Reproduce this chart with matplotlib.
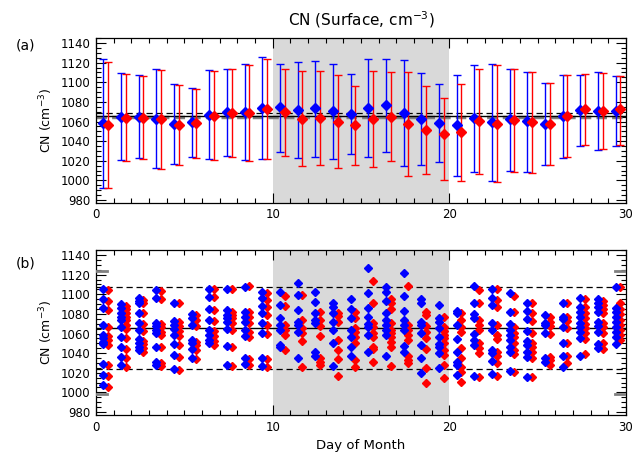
import numpy as np
import matplotlib
matplotlib.use('Agg')
import matplotlib.pyplot as plt
from matplotlib.ticker import MultipleLocator

plt.rcParams['font.family'] = ['DejaVu Sans']

# Day index (0..29)
days = np.arange(30)

# Panel (a): daily mean with min/max bars
blue_mean = [1058, 1065, 1065, 1063, 1057.5, 1059, 1067, 1069.6, 1070, 1073.7,
             1074.4, 1072, 1073.7, 1070.3, 1067.3, 1074, 1076.4, 1068.6, 1063, 1058.6,
             1056, 1063.4, 1059.3, 1062.3, 1060.6, 1057.6, 1065.7, 1071.4, 1070.7, 1070.7]
blue_hi = [1123.5, 1109, 1107, 1113.8, 1097.8, 1094.4, 1112.3, 1113.8, 1118.6, 1125.4,
           1119, 1121, 1122, 1118.6, 1108, 1123.4, 1123.4, 1122.4, 1109, 1097.8,
           1107, 1117.3, 1118.6, 1113.8, 1110.8, 1098.8, 1107, 1107, 1110, 1106]
blue_lo = [992.5, 1021, 1023, 1013, 1017, 1023.6, 1021.6, 1024.6, 1020.6, 1021.6,
           1029, 1022.6, 1024.3, 1021.3, 1026.6, 1023.6, 1029.4, 1014.5, 1015.2, 1018.5,
           1004.7, 1008.4, 999, 1010, 1008.4, 1015.8, 1023.3, 1035.5, 1031, 1034.8]
red_mean = [1056.5, 1064, 1064, 1062.5, 1056.5, 1058, 1066, 1068.6, 1069, 1073,
            1069.3, 1063, 1063.6, 1060, 1056.5, 1062.6, 1065, 1057, 1051.5, 1047,
            1049, 1060.3, 1057.6, 1061.3, 1059.6, 1057, 1065.7, 1072.3, 1070.7, 1072.7]
red_hi = [1121, 1108, 1106.5, 1112.5, 1097, 1093.4, 1112, 1113.2, 1118, 1123.4,
          1113.8, 1111, 1111, 1107, 1095.7, 1111, 1110, 1110, 1096.4, 1084.2,
          1097.8, 1113.5, 1117.6, 1113.2, 1110.8, 1098.8, 1107, 1108, 1109, 1106]
red_lo = [992, 1019.5, 1021.5, 1011.6, 1016, 1023, 1021, 1023.6, 1020, 1021.6,
          1025, 1014.5, 1015.5, 1012.6, 1016, 1013.5, 1019.6, 1004, 1006, 1000,
          999.3, 1006, 998, 1008.7, 1007.7, 1015.2, 1024.3, 1036.2, 1032, 1036.5]

# reference lines, panel (a)
a_solid = 1066
a_dashed = 1068.3
a_gray = 1064.3

# Panel (b): individual values per day
blue_pts = [
    [1105.4, 1095.2, 1085.7, 1068.7, 1058.5, 1055.1, 1051.7, 1049, 1028.9, 1018.1, 1007.2],
    [1089.7, 1085.7, 1080.6, 1077.2, 1073.8, 1067, 1056.8, 1046.6, 1035.7, 1027.6],
    [1095.8, 1093.1, 1090.7, 1081.2, 1070.4, 1063.6, 1054.1, 1050.7, 1046.6, 1043.2],
    [1104.3, 1095.8, 1070.4, 1067.6, 1063.6, 1060.2, 1046.6, 1031.3, 1027.9],
    [1091.4, 1073.1, 1068.7, 1064.3, 1058.5, 1049.3, 1038.1, 1024.2],
    [1079.5, 1075.5, 1068.7, 1053.4, 1050, 1043.9, 1034.7],
    [1105.4, 1097.5, 1084.6, 1073.8, 1063.6, 1058.5, 1053.4, 1050],
    [1105.4, 1084, 1078.9, 1075.5, 1072.1, 1064.3, 1047.3, 1027.9],
    [1107.7, 1082.3, 1077.2, 1072.1, 1063.6, 1057.5, 1034.7, 1028.9],
    [1102.6, 1095.8, 1088, 1080.6, 1070.4, 1060.2, 1034.7, 1027.2],
    [1102.6, 1089, 1075.5, 1068.7, 1063.6, 1048.3, 1045.9],
    [1111.1, 1099.2, 1084, 1072.1, 1068.7, 1061.9, 1034.7],
    [1102, 1092.4, 1080.6, 1073.8, 1070.4, 1041.5, 1037.1],
    [1090.7, 1087.4, 1080.6, 1072.1, 1063.6, 1050, 1026.9],
    [1094.8, 1084.6, 1076.2, 1063.6, 1056.1, 1046.6, 1037.1],
    [1126.4, 1100.9, 1085.7, 1077.2, 1069.7, 1066.3, 1058.5, 1041.5],
    [1107, 1102.6, 1093.5, 1080.6, 1073.8, 1068.7, 1063.6, 1058.5, 1037.1],
    [1121.3, 1098.2, 1082.9, 1073.8, 1068.7, 1063.6, 1047.3, 1041.5],
    [1094.8, 1091.4, 1072.1, 1068.7, 1060.2, 1048.3, 1034.7, 1019.4],
    [1089, 1075.5, 1072.1, 1065.3, 1056.1, 1049.3, 1046.6, 1039.8, 1024.5],
    [1083.3, 1080.6, 1068.7, 1054.1, 1041.5, 1031.3, 1027.9, 1017.7],
    [1108.4, 1091.4, 1079.9, 1075.5, 1059.5, 1053.4, 1048.3, 1016.7],
    [1105, 1095.8, 1089, 1070.4, 1063.6, 1043.2, 1039.8, 1032, 1018.7],
    [1101.6, 1082.3, 1069.7, 1063.6, 1058.5, 1053.4, 1045.9, 1041.5, 1022.1],
    [1091.4, 1083.3, 1074.5, 1062.9, 1052.7, 1048.3, 1041.5, 1036.4, 1016],
    [1078.9, 1070.4, 1068.7, 1060.2, 1034.7, 1031.3],
    [1090.7, 1077.2, 1074.5, 1067, 1050.7, 1037.1, 1026.2],
    [1095.8, 1087.4, 1082.3, 1077.2, 1071, 1067, 1061.9, 1055.1, 1037.1],
    [1094.8, 1091.4, 1087.4, 1082.3, 1072.1, 1067.6, 1061.9, 1049.3, 1044.9],
    [1107, 1085.7, 1082.3, 1077.2, 1072.1, 1067, 1061.9, 1056.8, 1049.3],
]
red_pts = [
    [1104.3, 1093.5, 1084, 1067, 1057.5, 1053.4, 1048.3, 1027.9, 1016.7, 1005.8],
    [1088, 1084.6, 1080.6, 1077.2, 1073.8, 1068.7, 1064.3, 1055.1, 1044.5, 1034.7, 1026.2],
    [1094.1, 1090.7, 1080.6, 1069.7, 1062.9, 1052.7, 1049.3, 1044.9, 1041.5],
    [1103.7, 1094.8, 1069.7, 1066.3, 1061.9, 1058.5, 1045.9, 1030.3, 1026.9],
    [1090.7, 1072.1, 1067.6, 1062.9, 1057.5, 1048.3, 1036.4, 1022.8],
    [1078.9, 1073.8, 1067.6, 1051.7, 1048.3, 1043.2, 1033.7],
    [1105.4, 1096.9, 1084, 1073.1, 1062.9, 1057.5, 1052.7, 1048.3],
    [1105, 1082.3, 1078.9, 1075.5, 1071, 1063.6, 1046.6, 1027.2],
    [1108.4, 1082.3, 1077.2, 1071, 1061.9, 1056.1, 1033.7, 1027.9],
    [1101.6, 1094.1, 1086.7, 1078.9, 1068.7, 1059.5, 1033.7, 1026.2],
    [1098.2, 1088, 1068.7, 1063.6, 1058.5, 1043.2],
    [1099.2, 1073.8, 1065.3, 1060.2, 1052.7, 1026.2],
    [1082.3, 1073.8, 1067.6, 1057.5, 1034.7, 1031.3, 1027.9],
    [1080.6, 1078, 1072.1, 1053.4, 1043.2, 1033.7, 1017],
    [1082.3, 1075.5, 1065.3, 1061.9, 1056.1, 1050, 1033, 1026.2],
    [1113.8, 1090.7, 1071, 1066.3, 1060.2, 1056.1, 1046.6, 1043.9, 1031.3],
    [1094.8, 1090.7, 1084.6, 1070.4, 1063.6, 1060.2, 1056.1, 1051.7, 1045.9, 1026.9],
    [1108.4, 1068.7, 1063.6, 1058.5, 1053.4, 1037.1, 1033, 1029.6],
    [1082.3, 1078.9, 1067.6, 1061.9, 1055.1, 1043.9, 1024.5, 1009.2],
    [1076.5, 1066.3, 1062.9, 1058.5, 1055.1, 1050, 1043.2, 1038.1, 1027.9, 1014.3],
    [1081.2, 1073.8, 1066.3, 1061.9, 1044.9, 1034.7, 1026.2, 1020.4, 1010.9],
    [1104.3, 1090.7, 1073.8, 1068.7, 1063.6, 1050, 1044.9, 1040.5, 1016],
    [1105, 1094.1, 1087.4, 1068.7, 1058.5, 1054.1, 1041.5, 1037.1, 1029.6, 1016.7],
    [1098.2, 1081.6, 1067, 1060.9, 1056.1, 1050, 1043.2, 1039.1, 1021.1],
    [1091.4, 1081.2, 1073.1, 1060.2, 1050.7, 1046.6, 1041.5, 1034.7, 1016],
    [1077.2, 1072.1, 1067.6, 1059.5, 1036.4, 1033, 1027.9],
    [1090.7, 1077.2, 1073.1, 1065.3, 1050, 1037.1, 1029.6],
    [1094.8, 1087.4, 1080.6, 1075.5, 1069.7, 1065.3, 1060.2, 1054.1, 1039.1],
    [1093.5, 1089, 1084.6, 1080.6, 1071, 1066.3, 1060.9, 1050, 1043.9],
    [1107, 1090.7, 1084.6, 1079.9, 1073.8, 1068.7, 1063.6, 1058.5, 1053.4],
]

# reference lines, panel (b)
b_mean = 1065.5
b_band = [1024, 1107]
b_gray = [998, 1124]

shade_span = (10, 20)
blue_off = 0.42
red_off = 0.68
ylim = (977, 1145)


def style_axis(ax):
    ax.set_xlim(0, 30)
    ax.set_ylim(*ylim)
    ax.xaxis.set_major_locator(MultipleLocator(10))
    ax.xaxis.set_minor_locator(MultipleLocator(1))
    ax.yaxis.set_major_locator(MultipleLocator(20))
    ax.yaxis.set_minor_locator(MultipleLocator(5))
    ax.tick_params(which='both', direction='in', top=True, right=True,
                   labelsize=8.5, width=0.8)
    ax.tick_params(which='major', length=7, pad=4)
    ax.tick_params(which='minor', length=3.5)
    ax.axvspan(*shade_span, color='#d9d9d9', lw=0, zorder=0)
    ax.set_ylabel('CN (cm$^{-3}$)', fontsize=9)
    for s in ax.spines.values():
        s.set_linewidth(0.9)


fig = plt.figure(figsize=(6.36, 4.54), dpi=100)
ax1 = fig.add_axes([0.151, 0.553, 0.833, 0.363])
ax2 = fig.add_axes([0.151, 0.086, 0.833, 0.363])

# --- panel (a)
style_axis(ax1)
bm = np.array(blue_mean)
rm = np.array(red_mean)
ax1.errorbar(days + blue_off, bm, yerr=[bm - np.array(blue_lo), np.array(blue_hi) - bm],
             fmt='D', color='blue', ms=5, elinewidth=1.0, capsize=3, capthick=1.0, zorder=3)
ax1.errorbar(days + red_off, rm, yerr=[rm - np.array(red_lo), np.array(red_hi) - rm],
             fmt='D', color='red', ms=5, elinewidth=1.0, capsize=3, capthick=1.0, zorder=3)
ax1.axhline(a_gray, color='gray', lw=2.5, ls=(0, (3, 1.5)), zorder=2)
ax1.axhline(a_solid, color='black', lw=1.0, zorder=2)
ax1.axhline(a_dashed, color='black', lw=0.9, ls=(0, (5, 3)), zorder=2)
ax1.set_title('CN (Surface, cm$^{-3}$)', fontsize=11, pad=9)
fig.text(0.025, 0.89, '(a)', fontsize=10)

# --- panel (b)
style_axis(ax2)
for d in days:
    ax2.plot(np.full(len(red_pts[d]), d + red_off), red_pts[d], 'D', color='red',
             ms=4.5, mec='red', zorder=3)
    ax2.plot(np.full(len(blue_pts[d]), d + blue_off), blue_pts[d], 'D', color='blue',
             ms=4.5, mec='blue', zorder=4)
ax2.axhline(b_mean, color='black', lw=1.0, zorder=2)
for v in b_band:
    ax2.axhline(v, color='black', lw=0.9, ls=(0, (5, 3)), zorder=2)
for v in b_gray:
    ax2.plot([0, 0.02], [v, v], color='gray', lw=2, transform=ax2.get_yaxis_transform(), zorder=5)
    ax2.plot([0.98, 1], [v, v], color='gray', lw=2, transform=ax2.get_yaxis_transform(), zorder=5)
ax2.set_xlabel('Day of Month', fontsize=9.5, labelpad=4)
fig.text(0.025, 0.41, '(b)', fontsize=10)

plt.savefig('out.png', dpi=100)
plt.close()
